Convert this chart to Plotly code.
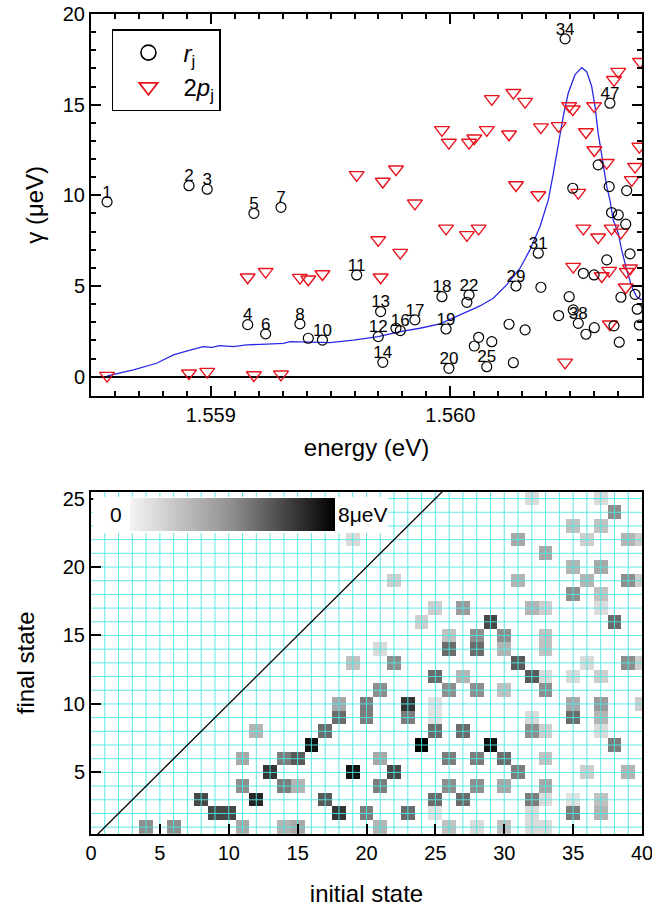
import plotly.graph_objects as go

# ---------------- top panel data ----------------
energy = [1.558567, 1.558909, 1.558985, 1.559154, 1.559180, 1.559229, 1.559293, 1.559372, 1.559407, 1.559466,
          1.559609, 1.559699, 1.559709, 1.559718, 1.559773, 1.559791, 1.559852, 1.559965, 1.559982, 1.559994,
          1.560069, 1.560078, 1.560100, 1.560118, 1.560152, 1.560173, 1.560245, 1.560263, 1.560274, 1.560312,
          1.560367, 1.560378, 1.560452, 1.560479, 1.560496, 1.560511, 1.560513, 1.560534, 1.560555, 1.560566,
          1.560600, 1.560601, 1.560617, 1.560632, 1.560653, 1.560663, 1.560666, 1.560673, 1.560683, 1.560701,
          1.560705, 1.560712, 1.560732, 1.560736, 1.560750, 1.560757, 1.560771, 1.560780, 1.560789, 1.560792]
r_gamma = [9.64, 10.53, 10.34, 2.87, 9.01, 2.36, 9.34, 2.91, 2.12, 2.02,
           5.61, 2.21, 3.59, 0.79, 2.67, 2.54, 3.13, 4.41, 2.63, 0.46,
           4.10, 4.51, 1.69, 2.17, 0.55, 1.93, 2.89, 0.77, 5.00, 2.58,
           6.81, 4.93, 3.37, 18.63, 4.41, 10.39, 3.68, 2.94, 5.70, 2.34,
           5.61, 2.70, 11.68, None, 6.44, 10.48, 15.08, 9.05, 2.80, 8.92,
           1.90, 4.38, 8.41, 10.26, 6.77, None, 4.54, 3.72, 2.85, None]
p2_gamma = [0.06, 0.19, 0.28, 5.48, 0.09, 5.79, 0.13, 5.46, 5.37, 5.66,
            11.13, 7.54, 5.48, 10.76, 11.44, 6.84, 9.56, 13.61, 8.18, 12.91,
            7.82, 12.91, 13.15, 8.18, 13.61, 15.32, 13.37, 15.66, 10.57, 15.17,
            10.02, 13.76, 13.83, 0.79, 14.93, 14.75, 6.07, 10.15, 8.18, 13.49,
            14.93, 12.50, 7.69, 5.55, 11.80, 5.85, 2.89, 8.18, 16.37, 16.82,
            None, 7.96, 4.93, 5.79, 5.98, 10.85, 11.58, None, 12.69, 17.37]
r_label = ["1", "2", "3", "4", "5", "6", "7", "8", "", "10",
           "11", "12", "13", "14", "", "16", "17", "18", "19", "20",
           "", "22", "", "", "25", "", "", "", "29", "",
           "31", "", "", "34", "", "", "", "38", "", "",
           "", "", "", "", "", "", "47", "", "", "",
           "", "", "", "", "", "", "", "", "", ""]

line_energy = [1.558568, 1.558677, 1.558774, 1.558844, 1.558913, 1.558969, 1.559004, 1.559038, 1.559094, 1.559150,
               1.559233, 1.559303, 1.559331, 1.559442, 1.559498, 1.559595, 1.559699, 1.559790, 1.559873, 1.559957,
               1.560040, 1.560124, 1.560179, 1.560235, 1.560291, 1.560332, 1.560374, 1.560409, 1.560430, 1.560451,
               1.560471, 1.560492, 1.560520, 1.560548, 1.560569, 1.560590, 1.560604, 1.560617, 1.560636, 1.560653,
               1.560666, 1.560680, 1.560701, 1.560715, 1.560736, 1.560757, 1.560778, 1.560799]
line_gamma = [0.05, 0.37, 0.74, 1.20, 1.47, 1.66, 1.62, 1.71, 1.66, 1.75,
              1.80, 1.84, 1.93, 1.88, 1.88, 2.02, 2.21, 2.48, 2.67, 2.91,
              3.40, 3.90, 4.32, 5.06, 5.98, 6.99, 8.27, 9.75, 11.22, 12.87,
              14.34, 15.63, 16.64, 17.04, 16.82, 16.00, 14.89, 13.43, 11.95, 10.48,
              9.75, 8.64, 7.91, 6.99, 5.89, 4.96, 4.41, 4.23]

# ---------------- bottom panel data (initial, final, value in ueV) ----------------
cells = [
    (4, 1, 4), (6, 1, 4), (11, 1, 3), (14, 1, 2.5), (15, 1, 3), (21, 1, 2.5), (26, 1, 2), (28, 1, 1),
    (30, 1, 2), (32, 1, 1), (33, 1, 1),
    (9, 2, 6), (10, 2, 6), (18, 2, 6.5), (20, 2, 4.5), (23, 2, 5), (25, 2, 0.7), (32, 2, 1), (35, 2, 4.5), (37, 2, 2.5),
    (8, 3, 6), (12, 3, 7), (17, 3, 5.5), (25, 3, 5), (27, 3, 5), (32, 3, 4.5), (33, 3, 1), (35, 3, 0.7), (37, 3, 2),
    (11, 4, 4), (14, 4, 4.5), (15, 4, 2.5), (21, 4, 4.5), (26, 4, 4), (28, 4, 4), (30, 4, 3), (33, 4, 3),
    (13, 5, 6.5), (19, 5, 7.5), (22, 5, 6), (31, 5, 4.5), (36, 5, 1.5), (39, 5, 2.5),
    (11, 6, 3), (14, 6, 4.5), (15, 6, 5.5), (21, 6, 3), (26, 6, 4.5), (28, 6, 4.5), (30, 6, 5), (33, 6, 2),
    (16, 7, 7.5), (24, 7, 8), (29, 7, 7.5), (38, 7, 4.5),
    (12, 8, 2.5), (17, 8, 5), (25, 8, 5), (27, 8, 5), (32, 8, 4), (33, 8, 1.5), (37, 8, 1),
    (18, 9, 5), (20, 9, 4.5), (23, 9, 4.5), (25, 9, 0.7), (32, 9, 1), (35, 9, 5), (37, 9, 2.5),
    (18, 10, 3), (20, 10, 4.5), (23, 10, 6.5), (25, 10, 0.7), (35, 10, 3), (37, 10, 3.5), (40, 10, 1.5),
    (21, 11, 4), (26, 11, 4), (28, 11, 4), (30, 11, 2), (33, 11, 4),
    (25, 12, 5), (27, 12, 2.5), (32, 12, 5.5), (33, 12, 1), (35, 12, 1), (37, 12, 1.5),
    (19, 13, 2), (22, 13, 4), (31, 13, 5.5), (36, 13, 1), (39, 13, 4), (40, 13, 1.5),
    (21, 14, 1), (26, 14, 5), (28, 14, 5), (30, 14, 2.5), (33, 14, 2),
    (26, 15, 2), (28, 15, 4), (30, 15, 4), (33, 15, 2),
    (24, 16, 1.5), (29, 16, 6), (38, 16, 5),
    (25, 17, 1.5), (27, 17, 3.5), (32, 17, 2.5), (33, 17, 1.5), (37, 17, 1),
    (35, 18, 4), (37, 18, 2),
    (22, 19, 1.5), (31, 19, 2.5), (36, 19, 2.5), (39, 19, 4), (40, 19, 1.5),
    (35, 20, 2.5), (37, 20, 3),
    (33, 21, 3),
    (19, 22, 1), (31, 22, 3), (36, 22, 1.5), (39, 22, 2.5), (40, 22, 1.5),
    (35, 23, 2), (37, 23, 2),
    (38, 24, 4),
    (32, 25, 1), (37, 25, 1),
]
cell_initial = [c[0] for c in cells]
cell_final = [c[1] for c in cells]
cell_value = [c[2] for c in cells]
n_initial = 40
n_final = 25

FONT = "Liberation Sans, Arial, Helvetica, sans-serif"

z = [[None] * n_initial for _ in range(n_final)]
for i, j, v in zip(cell_initial, cell_final, cell_value):
    z[j - 1][i - 1] = v

lab_x = [e for e, r, t in zip(energy, r_gamma, r_label) if t and r is not None]
lab_y = [r for e, r, t in zip(energy, r_gamma, r_label) if t and r is not None]
lab_t = [t for e, r, t in zip(energy, r_gamma, r_label) if t and r is not None]

fig = go.Figure()

# ---------- top panel ----------
fig.add_trace(go.Scatter(x=line_energy, y=line_gamma, mode="lines",
                         line=dict(color="#2a2ae6", width=1.3), showlegend=False,
                         xaxis="x", yaxis="y"))
fig.add_trace(go.Scatter(x=energy, y=p2_gamma, mode="markers",
                         marker=dict(symbol="triangle-down-open", size=13, color="#e8141e",
                                     line=dict(width=1.4, color="#e8141e")),
                         showlegend=False, xaxis="x", yaxis="y"))
fig.add_trace(go.Scatter(x=energy, y=r_gamma, mode="markers",
                         marker=dict(symbol="circle-open", size=10, color="black",
                                     line=dict(width=1.2, color="black")),
                         showlegend=False, xaxis="x", yaxis="y"))
fig.add_trace(go.Scatter(x=lab_x, y=lab_y, mode="text", text=lab_t,
                         textposition="top center", textfont=dict(size=17, color="black", family=FONT),
                         showlegend=False, xaxis="x", yaxis="y"))
# legend entries
fig.add_trace(go.Scatter(x=[None], y=[None], mode="markers", name="<i>r</i><sub>j</sub>",
                         marker=dict(symbol="circle-open", size=15, color="black",
                                     line=dict(width=1.6, color="black")),
                         xaxis="x", yaxis="y"))
fig.add_trace(go.Scatter(x=[None], y=[None], mode="markers", name="2<i>p</i><sub>j</sub>",
                         marker=dict(symbol="triangle-down-open", size=16, color="#e8141e",
                                     line=dict(width=1.8, color="#e8141e")),
                         xaxis="x", yaxis="y"))

# ---------- bottom panel ----------
fig.add_trace(go.Heatmap(x=list(range(1, n_initial + 1)), y=list(range(1, n_final + 1)), z=z,
                         zmin=0, zmax=8, colorscale=[[0, "#f4f4f4"], [0.5, "#8e8e8e"], [1, "#000000"]],
                         hoverongaps=False, xaxis="x2", yaxis="y2",
                         colorbar=dict(orientation="h", x=0.0708, xanchor="left",
                                       y=0.4098, yanchor="top", len=0.372, lenmode="fraction",
                                       thickness=33, thicknessmode="pixels", xpad=0, ypad=0,
                                       outlinewidth=0, showticklabels=False, ticks="")))
gx, gy = [], []
for k in range(1, n_initial):
    gx += [k, k, None]
    gy += [0, 26, None]
for k in range(1, n_final + 1):
    gx += [0, 41, None]
    gy += [k, k, None]
fig.add_trace(go.Scatter(x=gx, y=gy, mode="lines", line=dict(color="rgba(80,228,228,0.9)", width=1),
                         hoverinfo="skip", showlegend=False, xaxis="x2", yaxis="y2"))
fig.add_trace(go.Scatter(x=[0, 26], y=[0, 26], mode="lines", line=dict(color="black", width=1.3),
                         showlegend=False, xaxis="x2", yaxis="y2"))

axis_common = dict(showline=True, linecolor="black", linewidth=2, ticks="inside", tickcolor="black",
                   tickwidth=2, ticklen=10, showgrid=False, zeroline=False, automargin=False,
                   ticklabeloverflow="allow",
                   tickfont=dict(size=20, family=FONT, color="black"))

fig.update_layout(
    width=652, height=910, template="none",
    paper_bgcolor="white", plot_bgcolor="white",
    margin=dict(l=91, r=10, t=14, b=76),
    font=dict(family=FONT, color="black"),
    showlegend=True,
    legend=dict(x=0.038, y=0.9817, xanchor="left", yanchor="top", bordercolor="black", borderwidth=1.5,
                bgcolor="white", font=dict(size=24, family=FONT), tracegroupgap=0, itemwidth=60),
    xaxis=dict(domain=[0, 1], anchor="y", range=[1.5585, 1.5608], tickvals=[1.559, 1.560],
               ticktext=["1.559", "1.560"], mirror="ticks",
               minor=dict(dtick=0.0001, tick0=1.559, ticks="inside", ticklen=5, tickwidth=1.5, tickcolor="black"),
               title=dict(text="energy (eV)", font=dict(size=24, family=FONT), standoff=14),
               **axis_common),
    yaxis=dict(domain=[0.5345, 1], anchor="x", range=[-1.05, 20], tickvals=[0, 5, 10, 15, 20], mirror="ticks",
               minor=dict(dtick=1, tick0=0, ticks="inside", ticklen=5, tickwidth=1.5, tickcolor="black"),
               title=dict(text="γ (μeV)", font=dict(size=24, family=FONT), standoff=12),
               **{k: v for k, v in axis_common.items() if k != "zeroline"},
               zeroline=True, zerolinecolor="black", zerolinewidth=2),
    xaxis2=dict(domain=[0, 1], anchor="y2", range=[0, 40], tickvals=[0, 5, 10, 15, 20, 25, 30, 35, 40],
                mirror=True,
                title=dict(text="initial state", font=dict(size=24, family=FONT), standoff=22),
                **axis_common),
    yaxis2=dict(domain=[0, 0.4174], anchor="x2", range=[0.5, 25.5], tickvals=[5, 10, 15, 20, 25],
                mirror=True,
                title=dict(text="final state", font=dict(size=24, family=FONT), standoff=21),
                **axis_common),
    shapes=[dict(type="rect", xref="paper", yref="paper", x0=0.004, x1=0.539, y0=0.367, y1=0.411,
                 fillcolor="white", line=dict(width=0), layer="above")],
    annotations=[
        dict(text="0", x=0.045, y=0.3894, xref="paper", yref="paper", showarrow=False,
             font=dict(size=21, family=FONT), xanchor="center", yanchor="middle"),
        dict(text="8μeV", x=0.4446, y=0.3894, xref="paper", yref="paper", showarrow=False,
             font=dict(size=21, family=FONT), xanchor="left", yanchor="middle"),
    ],
)

fig.write_html("out.html", config={"displayModeBar": False},
               post_script="document.body.style.margin='0';")
